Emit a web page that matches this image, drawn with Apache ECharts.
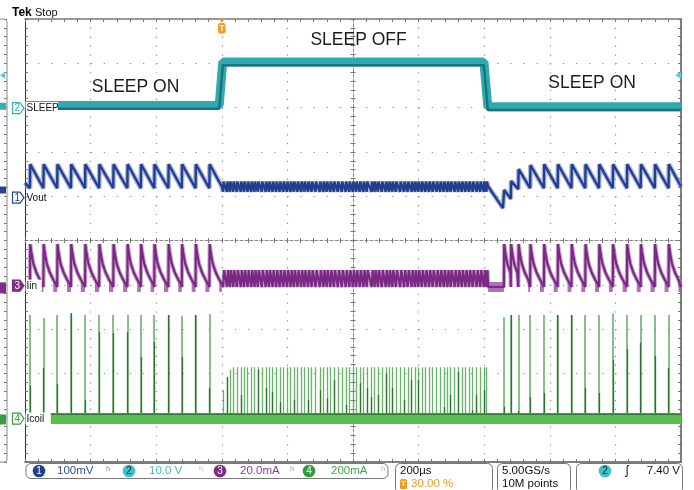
<!DOCTYPE html>
<html>
<head>
    <meta charset="utf-8">
    <title>SLEEP ON / OFF scope capture</title>
    <script src="https://cdn.jsdelivr.net/npm/echarts@6/dist/echarts.min.js"></script>
    <style>
        html, body { margin: 0; padding: 0; background: #fff; }
        #main { width: 694px; height: 490px; }
    </style>
</head>
<body>
<div id="main"></div>
<script>
    // time axis: 200 µs/div, trigger at 30 % of the record
    const timeMin = -600, timeMax = 1400, timeDiv = 200;
    // vertical axis in screen divisions (0 = bottom line, 10 = top line)
    const divMin = 0, divMax = 10;

    // ---- SLEEP (ch2) ----
    const sleepTimes  = [-600, -8, 3, 799, 811, 1400];
    const sleepLevels = [8.05, 8.05, 9.03, 9.03, 8.02, 8.02];

    // switching events (µs)
    const onTimesA = [-585, -544, -502, -460, -417, -374, -331, -288, -247, -206, -163, -122, -80, -38];
    const onTimesB = [860, 881, 904, 940, 982, 1024, 1066, 1108, 1150, 1192, 1235, 1277, 1320, 1362];
    const midTimes = [4, 16, 25, 35, 46, 58, 68, 79, 90, 100, 110, 122, 134, 144, 155, 166, 177, 188, 199, 210,
        220, 231, 242, 252, 263, 274, 286, 299, 310, 320, 331, 342, 354, 366, 378, 389, 400, 410, 421, 432,
        442, 457, 466, 476, 488, 500, 510, 520, 531, 544, 556, 567, 579, 589, 599, 610, 621, 632, 643, 655,
        666, 677, 688, 698, 710, 721, 732, 743, 754, 765, 777, 788, 799, 807];

    // ---- Vout (ch1) ----
    const voutStart = 6.30;
    const voutPeakA = 6.72, voutValleyA = 6.18;
    const voutMidEntry = 6.22, voutMidHigh = 6.33, voutMidLow = 6.10;
    const voutDipTimes  = [812, 857];
    const voutDipLevels = [6.22, 5.73];
    const voutValleyB = [5.73, 5.94, 6.16, 6.18, 6.18, 6.18, 6.18, 6.18, 6.18, 6.18, 6.18, 6.18, 6.18, 6.18];
    const voutPeakB   = [6.14, 6.34, 6.61, 6.70, 6.72, 6.72, 6.72, 6.72, 6.72, 6.72, 6.72, 6.72, 6.72, 6.72];
    const voutEnd = 6.22;

    // ---- Iin (ch3) ----
    const iinBase = 3.95;
    const iinSpikeDt  = [1, 4, 10, 20, 30, 38];
    const iinSpikeLvl = [4.92, 4.75, 4.49, 4.27, 4.12, 4.02];
    const iinMidEntry = 4.02, iinMidHigh = 4.33, iinMidLow = 3.95;
    const iinMidExit = 812;

    // ---- Icoil (ch4) ----
    const icoilBase = 0.98, icoilEdge = 1.08;
    const onTopsA = [3.32, 3.25, 3.32, 3.36, 3.32, 3.32, 3.32, 3.32, 3.32, 3.32, 3.32, 3.30, 3.32, 3.34];
    const onDarkA = [1.72, 2.12, 1.76, 3.36, 1.40, 2.93, 2.91, 2.93, 2.37, 2.71, 3.32, 2.37, 3.32, 1.67];
    const onTopsB = [3.27, 3.32, 3.32, 3.32, 3.32, 3.32, 3.32, 3.32, 3.32, 3.36, 3.32, 3.32, 3.32, 3.32];
    const onDarkB = [1.25, 3.32, 1.15, 1.47, 1.56, 3.32, 3.32, 1.67, 1.56, 2.30, 2.55, 2.69, 2.39, 2.12];
    const midTopRamp = [1.63, 1.92, 2.08];
    const midTop = 2.14;
    const midDarkTimes = [16, 58, 110, 134, 155, 177, 220, 263, 299, 320, 342, 378, 421, 442, 457, 476, 500, 520,
        556, 579, 599, 677, 698, 721, 765, 777, 799];
    const midDarkTops = [1.92, 1.51, 2.08, 1.67, 1.58, 1.35, 1.40, 1.40, 1.62, 1.44, 1.85, 1.29, 1.78, 1.67, 1.47,
        1.51, 2.00, 1.67, 1.40, 1.85, 1.85, 1.24, 1.51, 2.03, 1.17, 1.51, 1.62];

    // ---- channel markers / labels ----
    const markerNums   = ['2', '1', '3', '4'];
    const markerNames  = ['SLEEP', 'Vout', 'Iin', 'Icoil'];
    const markerLevels = [7.99, 5.97, 3.98, 0.98];
    const stubLevels   = [8.03, 6.14, 3.93, 0.96];
    const trigLevel = 8.73;

    const annoTexts  = ['SLEEP ON', 'SLEEP OFF', 'SLEEP ON'];
    const annoTimes  = [-263, 417, 1129];
    const annoLevels = [8.46, 9.53, 8.56];

    const chScales = ['100mV', '10.0 V', '20.0mA', '200mA'];

    // ---------- build series data ----------
    const vout = [[timeMin, voutStart]];
    onTimesA.forEach(t => vout.push([t, voutValleyA], [t + 1, voutPeakA]));
    vout.push([0, voutMidEntry]);
    midTimes.forEach(t => vout.push([t, voutMidLow], [t + 1, voutMidHigh]));
    voutDipTimes.forEach((t, i) => vout.push([t, voutDipLevels[i]]));
    onTimesB.forEach((t, i) => vout.push([t, voutValleyB[i]], [t + 1, voutPeakB[i]]));
    vout.push([timeMax, voutEnd]);

    const iin = [[timeMin, iinBase]];
    const iinBand = [{ coords: [[timeMin, iinBase], [onTimesA[0], iinBase]] }];
    function addSpikes(times, until) {
        times.forEach((t, i) => {
            const next = i + 1 < times.length ? times[i + 1] : until;
            iin.push([t, iinBase]);
            iinSpikeDt.forEach((dt, k) => {
                if (t + dt < next) iin.push([t + dt, iinSpikeLvl[k]]);
            });
            const tail = t + iinSpikeDt[4];
            if (tail < next) iinBand.push({ coords: [[tail, iinBase], [next, iinBase]] });
        });
    }
    addSpikes(onTimesA, 0);
    iin.push([0, iinMidEntry]);
    midTimes.forEach(t => iin.push([t, iinMidLow], [t + 3, iinMidHigh]));
    iin.push([iinMidExit, iinBase]);
    iinBand.push({ coords: [[iinMidExit, iinBase], [onTimesB[0], iinBase]] });
    addSpikes(onTimesB, timeMax);
    iin.push([timeMax, iinBase]);

    const seg = (t, top) => ({ coords: [[t, icoilBase], [t, top]] });
    const pulsesOn = [], pulsesMid = [], pulsesDark = [];
    onTimesA.forEach((t, i) => { pulsesOn.push(seg(t, onTopsA[i])); pulsesDark.push(seg(t, onDarkA[i])); });
    onTimesB.forEach((t, i) => { pulsesOn.push(seg(t, onTopsB[i])); pulsesDark.push(seg(t, onDarkB[i])); });
    midTimes.forEach((t, i) => pulsesMid.push(seg(t, i < midTopRamp.length ? midTopRamp[i] : midTop)));
    midDarkTimes.forEach((t, i) => pulsesDark.push(seg(t, midDarkTops[i])));

    const sleep = sleepTimes.map((t, i) => [t, sleepLevels[i]]);
    // darker lower edge of the SLEEP band
    const sleepEdge = sleepTimes.map((t, i) => [t, sleepLevels[i] - 0.075]);

    // ---------- chart ----------
    const W = 694, H = 490;
    const grid = { left: 25, right: 13, top: 19, bottom: 28 };
    const gridW = W - grid.left - grid.right;
    const gridH = H - grid.top - grid.bottom;

    const tickStyle = { color: '#777', width: 1 };
    function axisBase(kind, extra) {
        const a = {
            type: 'value',
            min: kind === 'x' ? timeMin : divMin,
            max: kind === 'x' ? timeMax : divMax,
            interval: kind === 'x' ? timeDiv : 1,
            axisLabel: { show: false },
            axisLine: { show: true, onZero: false, lineStyle: { color: '#555', width: 1.5 } },
            axisTick: { show: true, inside: true, length: 3, lineStyle: tickStyle },
            minorTick: { show: true, splitNumber: 5, length: 3, lineStyle: tickStyle },
            splitLine: { show: false }
        };
        return Object.assign(a, extra);
    }

    const xAxis = [
        axisBase('x', { position: 'bottom',
            splitLine: { show: true, lineStyle: { color: '#8a8a8a', width: 1.2, type: [1.2, 7.66] } } }),
        axisBase('x', { position: 'top', axisLine: { show: true, onZero: false, lineStyle: { color: '#777', width: 1.5 } } }),
        axisBase('x', { position: 'bottom', offset: -gridH / 2,
            axisLine: { show: true, onZero: false, lineStyle: { color: '#8a8a8a', width: 1, type: [3, 2] } },
            axisTick: { show: true, inside: true, length: 2.5, lineStyle: tickStyle },
            minorTick: { show: true, splitNumber: 5, length: 2.5, lineStyle: tickStyle } }),
        axisBase('x', { position: 'top', offset: -gridH / 2,
            axisLine: { show: false, onZero: false },
            axisTick: { show: true, inside: true, length: 2.5, lineStyle: tickStyle },
            minorTick: { show: true, splitNumber: 5, length: 2.5, lineStyle: tickStyle } })
    ];
    const yAxis = [
        axisBase('y', { position: 'left',
            axisLine: { show: true, onZero: false, lineStyle: { color: '#333', width: 1 } },
            splitLine: { show: true, lineStyle: { color: '#8a8a8a', width: 1.2, type: [1.2, 11.92] } } }),
        axisBase('y', { position: 'right' }),
        axisBase('y', { position: 'left', offset: -gridW / 2,
            axisLine: { show: true, onZero: false, lineStyle: { color: '#8a8a8a', width: 1, type: [3, 2] } },
            axisTick: { show: true, inside: true, length: 2.5, lineStyle: tickStyle },
            minorTick: { show: true, splitNumber: 5, length: 2.5, lineStyle: tickStyle } }),
        axisBase('y', { position: 'right', offset: -gridW / 2,
            axisLine: { show: false, onZero: false },
            axisTick: { show: true, inside: true, length: 2.5, lineStyle: tickStyle },
            minorTick: { show: true, splitNumber: 5, length: 2.5, lineStyle: tickStyle } }),
        axisBase('y', { position: 'left', offset: 18,
            axisLine: { show: false, onZero: false },
            axisTick: { show: true, inside: false, length: 3, lineStyle: tickStyle },
            minorTick: { show: true, splitNumber: 5, length: 3, lineStyle: tickStyle } })
    ];

    function lineSeries(data, color, width) {
        return { type: 'line', data: data, symbol: 'none', showSymbol: false, silent: true, clip: true,
            lineStyle: { color: color, width: width }, animation: false };
    }
    function segSeries(data, color, width) {
        return { type: 'lines', coordinateSystem: 'cartesian2d', polyline: false, data: data, silent: true,
            lineStyle: { color: color, width: width, opacity: 1, curveness: 0 }, animation: false };
    }

    const series = [
        segSeries(pulsesMid, 'rgba(80,165,80,0.85)', 1.3),
        segSeries(pulsesOn, 'rgba(78,160,80,0.9)', 1.5),
        segSeries(pulsesDark, '#2e7431', 1.3),
        lineSeries([[timeMin, icoilBase], [timeMax, icoilBase]], '#58bd4f', 11),
        lineSeries([[timeMin, icoilEdge], [timeMax, icoilEdge]], '#2f7d30', 1.5),
        segSeries(iinBand, 'rgba(150,82,158,0.8)', 10),
        lineSeries(iin, 'rgba(165,100,172,0.6)', 4.2),
        lineSeries(iin, '#7a2a83', 2.2),
        lineSeries(vout, 'rgba(120,140,200,0.6)', 5),
        lineSeries(vout, '#233e8c', 2.4),
        lineSeries(sleep, '#2fabaf', 9),
        lineSeries(sleepEdge, '#1d737a', 2.5)
    ];

    const chart = echarts.init(document.getElementById('main'));
    chart.setOption({
        animation: false,
        backgroundColor: '#fff',
        grid: grid,
        xAxis: xAxis,
        yAxis: yAxis,
        series: series
    });

    // ---------- overlay: markers, labels, status bar ----------
    const toPx = (t, v) => chart.convertToPixel({ xAxisIndex: 0, yAxisIndex: 0 }, [t, v]);
    const chColors = ['#2fb1b5', '#27428f', '#7e2e86', '#3a9c3e'];
    const markerFilled = [false, false, true, false];
    const labelBoxW = [32, 0, 16, 25];
    const stubH = [7, 7, 11, 10];
    const FONT = "'Liberation Sans', Arial, sans-serif";

    function txt(x, y, text, size, color, opts) {
        opts = opts || {};
        return { type: 'text', z: 110, x: x, y: y, silent: true,
            style: { text: text, font: (opts.bold ? 'bold ' : '') + size + 'px ' + FONT, fill: color,
                align: opts.align || 'left', textAlign: opts.align || 'left',
                verticalAlign: 'middle', textVerticalAlign: 'middle' } };
    }

    const g = [];
    // header
    g.push(txt(12, 12.5, 'Tek', 12, '#000', { bold: true }));
    g.push(txt(35, 13, 'Stop', 11, '#111'));

    // left side panel
    g.push({ type: 'rect', z: 90, silent: true, shape: { x: -10, y: grid.top, width: 17, height: gridH, r: 3 },
        style: { fill: 'none', stroke: '#888', lineWidth: 1 } });
    markerNums.forEach((n, i) => {
        const ys = toPx(timeMin, stubLevels[i])[1];
        g.push({ type: 'rect', z: 95, silent: true, shape: { x: 0, y: ys - stubH[i] / 2, width: 6, height: stubH[i] },
            style: { fill: chColors[i] } });
    });
    const yt = toPx(timeMin, trigLevel)[1];
    g.push({ type: 'polygon', z: 100, silent: true, shape: { points: [[0, yt], [5, yt - 3.5], [5, yt + 3.5]] },
        style: { fill: '#5cc8cf' } });
    g.push({ type: 'polygon', z: 100, silent: true,
        shape: { points: [[W - grid.right - 6, yt], [W - grid.right, yt - 3.5], [W - grid.right, yt + 3.5]] },
        style: { fill: '#5cc8cf' } });

    // channel ground markers with names
    markerNums.forEach((n, i) => {
        const y = toPx(timeMin, markerLevels[i])[1];
        g.push({ type: 'polygon', z: 100, silent: true,
            shape: { points: [[12.5, y - 5.5], [20, y - 5.5], [24, y], [20, y + 5.5], [12.5, y + 5.5]] },
            style: { fill: markerFilled[i] ? chColors[i] : '#fff', stroke: chColors[i], lineWidth: 1.2 } });
        g.push(txt(17.2, y + 0.5, n, 10, markerFilled[i] ? '#fff' : chColors[i], { align: 'center' }));
        if (labelBoxW[i] > 0) {
            g.push({ type: 'rect', z: 99, silent: true,
                shape: { x: grid.left + 0.8, y: y - 6, width: labelBoxW[i], height: 12 }, style: { fill: '#fff' } });
        }
        g.push(txt(26.5, y + 0.5, markerNames[i], 10, '#111'));
    });

    // trigger position marker
    const xt = toPx(0, divMax)[0];
    g.push({ type: 'polygon', z: 100, silent: true,
        shape: { points: [[xt - 3.2, grid.top], [xt + 3.2, grid.top], [xt, grid.top + 3.5]] },
        style: { fill: '#f39a26' } });
    g.push({ type: 'rect', z: 100, silent: true, shape: { x: xt - 3.8, y: grid.top + 4, width: 7.6, height: 10.5, r: 2 },
        style: { fill: '#f39a26' } });
    g.push(txt(xt, grid.top + 9.5, 'T', 8.5, '#fff', { bold: true, align: 'center' }));

    // annotations
    annoTexts.forEach((s, i) => {
        const p = toPx(annoTimes[i], annoLevels[i]);
        g.push(txt(p[0], p[1], s, 17.5, '#1c1c1c', { align: 'center' }));
    });

    // status bar
    const barY1 = 471, barY2 = 484;
    const box = (x, w, h) => ({ type: 'rect', z: 100, silent: true, shape: { x: x, y: 463.5, width: w, height: h, r: 5 },
        style: { fill: '#fff', stroke: '#777', lineWidth: 1 } });
    g.push(box(26, 362, 15));
    const circX = [39, 129, 220, 309], scaleX = [57, 149, 240, 331], bwX = [106, 199, 290, 381];
    const circFill = ['#223f90', '#3fc0cc', '#7c2b88', '#2f9b3c'];
    const circText = ['#fff', '#123', '#fff', '#fff'];
    const scaleColor = ['#2f50a8', '#45b7c6', '#8e3d99', '#3ba64b'];
    const bwColor = ['#7f93cf', '#9fd8de', '#b98fc3', '#94cf94'];
    chScales.forEach((s, i) => {
        g.push({ type: 'circle', z: 101, silent: true, shape: { cx: circX[i], cy: barY1, r: 6.3 }, style: { fill: circFill[i] } });
        g.push(txt(circX[i], barY1 + 0.5, String(i + 1), 10, circText[i], { align: 'center' }));
        g.push(txt(scaleX[i], barY1, s, 11.5, scaleColor[i]));
        g.push(txt(bwX[i], barY1, 'ʰ', 11, bwColor[i]));
    });
    g.push(box(395.5, 97, 30));
    g.push(txt(400, barY1, '200µs', 11.5, '#111'));
    g.push({ type: 'rect', z: 101, silent: true, shape: { x: 400, y: barY2 - 5, width: 7, height: 10, r: 1.5 },
        style: { fill: '#f39a26' } });
    g.push(txt(403.5, barY2, 'T', 8, '#fff', { bold: true, align: 'center' }));
    g.push(txt(411, barY2, '30.00 %', 11.5, '#f39a26'));
    g.push(box(497.5, 73, 30));
    g.push(txt(502, barY1, '5.00GS/s', 11.5, '#111'));
    g.push(txt(502, barY2, '10M points', 11.5, '#111'));
    g.push(box(576.5, 106, 30));
    g.push({ type: 'circle', z: 101, silent: true, shape: { cx: 605, cy: barY1, r: 6.3 }, style: { fill: '#3fc0cc' } });
    g.push(txt(605, barY1 + 0.5, '2', 10, '#123', { align: 'center' }));
    g.push(txt(627, barY1, 'ʃ', 12, '#111', { align: 'center' }));
    g.push(txt(680, barY1, '7.40 V', 11.5, '#111', { align: 'right' }));

    chart.setOption({ graphic: { elements: g } });
</script>
</body>
</html>
